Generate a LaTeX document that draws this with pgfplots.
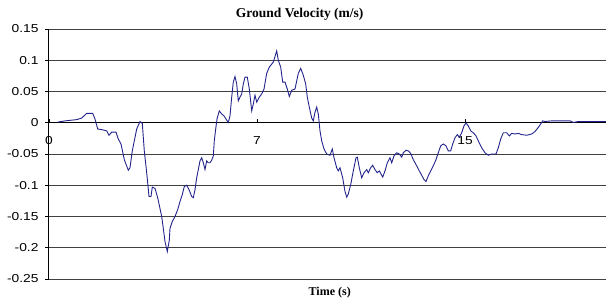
\documentclass[border=0pt]{standalone}
\usepackage{pgfplots}
\usepackage{graphicx}
\pgfplotsset{compat=1.18}
\usepackage{fontspec}
\setmainfont{Liberation Sans}
\newfontfamily\serifbold{Liberation Serif}
\definecolor{navyline}{RGB}{35,35,140}
\newcommand{\wl}[1]{\scalebox{1.2}[1]{#1}}
\begin{document}
\begin{tikzpicture}
\path[use as bounding box] (0,0) rectangle (606pt,300pt);
\begin{axis}[
  at={(49pt,21pt)}, anchor=south west,
  scale only axis, width=557pt, height=250pt,
  xmin=0, xmax=557, ymin=-0.25, ymax=0.15,
  axis x line=middle, axis y line=left,
  axis line style={-, black, line width=1pt},
  hide obscured x ticks=false,
  xtick={0,208,416}, xticklabels={\wl{0},\wl{7},\wl{15}},
  ytick={-0.25,-0.2,-0.15,-0.1,-0.05,0,0.05,0.1,0.15},
  yticklabels={\wl{-0.25},\wl{-0.2},\wl{-0.15},\wl{-0.1},\wl{-0.05},\wl{0},\wl{0.05},\wl{0.1},\wl{0.15}},
  ymajorgrids, grid style={black!75, line width=0.8pt},
  tick style={black, line width=0.6pt},
  major tick length=4pt,
  ytick align=outside,
  xtick align=inside,
  tick label style={font=\fontsize{11.5}{13}\selectfont},
  xticklabel style={yshift=-10pt},
  yticklabel style={xshift=-3pt},
  clip=false,
]
\addplot[color=navyline, line width=0.9pt, mark=none] coordinates {
(8.7,0.001) (16,0.003) (27.7,0.005) (32.7,0.0075) (37.7,0.015) (43.7,0.015)
(46,0.006) (48.7,-0.010) (52.7,-0.011) (57.7,-0.013) (60,-0.020) (62.7,-0.015)
(67,-0.015) (69.3,-0.026) (72,-0.034) (75.3,-0.059) (79.3,-0.076) (81,-0.072)
(83.3,-0.045) (87.7,-0.010) (91,0.002) (93.3,-0.001) (95.3,-0.045) (97.7,-0.080)
(100,-0.118) (102,-0.118) (103.3,-0.103) (106,-0.105) (108.7,-0.120) (112.7,-0.150)
(114.3,-0.169) (116,-0.190) (118.3,-0.206) (120.3,-0.188) (121,-0.169) (123.3,-0.158)
(126,-0.150) (128.7,-0.139) (131,-0.126) (133.3,-0.115) (135.3,-0.102) (137.7,-0.100)
(140,-0.107) (142.7,-0.118) (144.3,-0.120) (146,-0.107) (147.7,-0.088) (149.3,-0.075)
(151,-0.061) (152.7,-0.056) (154.3,-0.064) (156,-0.075) (157.7,-0.061) (159.3,-0.064)
(161,-0.064) (162.7,-0.060) (164.3,-0.053) (165.3,-0.029) (166.7,-0.010) (168,0.006)
(170.3,0.019) (172.7,0.014) (175,0.011) (177,0.006) (179.3,0.0005) (181,0.011)
(182.7,0.041) (184.3,0.065) (186,0.074) (187.7,0.062) (189.3,0.035) (191,0.041)
(192.7,0.046) (194.3,0.062) (196,0.073) (198.3,0.073) (200.3,0.054) (202.7,0.019)
(204.3,0.030) (206,0.044) (207.7,0.033) (210.3,0.041) (212.7,0.046) (215,0.054)
(217.7,0.079) (220.3,0.089) (224.3,0.097) (227.7,0.115) (229.3,0.100) (231.7,0.089)
(233.7,0.065) (236,0.065) (238.3,0.054) (240.3,0.042) (242.7,0.052) (246,0.054)
(249.3,0.079) (251.7,0.087) (254.3,0.076) (256.7,0.062) (258.3,0.041) (260.3,0.025)
(262.7,0.0075) (264.3,0.003) (266,0.017) (267.7,0.025) (269.3,0.014) (271,-0.013)
(272.7,-0.029) (275,-0.042) (277.7,-0.050) (281,-0.052) (283.3,-0.042) (285,-0.056)
(287.7,-0.072) (289.3,-0.077) (291,-0.072) (293.7,-0.088) (296,-0.110) (297.7,-0.119)
(299.3,-0.114) (301.7,-0.099) (304.3,-0.077) (307,-0.056) (308.3,-0.055) (310.3,-0.072)
(312.7,-0.088) (315,-0.080) (317.7,-0.075) (319.3,-0.080) (321.7,-0.072) (323.7,-0.068)
(326,-0.075) (328.3,-0.080) (330.3,-0.077) (333.7,-0.087) (336,-0.077) (338.3,-0.064)
(341,-0.056) (342.7,-0.064) (345,-0.053) (347.7,-0.048) (350.3,-0.050) (352.7,-0.055)
(354.3,-0.048) (357,-0.044) (359.3,-0.045) (361.7,-0.049) (364.3,-0.059) (367.7,-0.069)
(370.3,-0.077) (372.7,-0.084) (375,-0.091) (377,-0.094) (379.3,-0.085) (381.7,-0.077)
(384.3,-0.069) (387,-0.059) (389.3,-0.048) (391.7,-0.037) (394.3,-0.034) (397,-0.037)
(399.3,-0.045) (401.7,-0.045) (403.7,-0.034) (406,-0.024) (408.3,-0.019) (410.3,-0.023)
(412.7,-0.016) (415,-0.005) (417,-0.0005) (419.3,-0.005) (421.7,-0.013) (424.3,-0.016)
(427,-0.021) (429.3,-0.029) (432.7,-0.040) (436,-0.048) (439.3,-0.052) (442.7,-0.050)
(447,-0.050) (449.3,-0.040) (451.7,-0.026) (454.3,-0.016) (457.7,-0.016) (460.3,-0.021)
(462.7,-0.017) (466,-0.018) (469.3,-0.017) (472.7,-0.019) (477.7,-0.020) (482.7,-0.018)
(486,-0.014) (489.3,-0.0075) (491.7,-0.002) (493.7,0.003) (496,0.002) (502.7,0.003)
(521,0.003) (524.3,0.0005) (529.3,0.002) (554.3,0.002) (557,0.002)
};
\node[font=\serifbold\bfseries\fontsize{13.5}{15}\selectfont] at (rel axis cs:0.45,1) [yshift=15pt] {Ground Velocity (m/s)};
\node[font=\serifbold\bfseries\fontsize{12}{14}\selectfont] at (rel axis cs:0.504,0) [yshift=-14pt] {Time (s)};
\end{axis}
\end{tikzpicture}
\end{document}
